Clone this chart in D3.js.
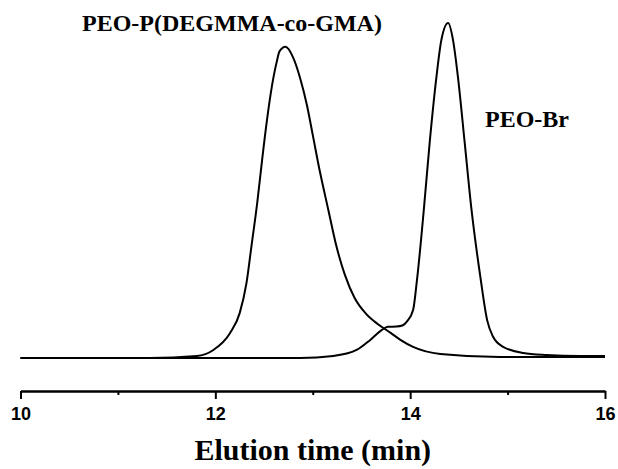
<!DOCTYPE html>
<html>
<head>
<meta charset="utf-8">
<script src="https://cdn.jsdelivr.net/npm/d3@7"></script>
<style>
  body { margin: 0; background: #fff; }
  .axis text { font-family: "Liberation Sans", Arial, sans-serif; font-weight: bold; font-size: 18px; fill: #000; }
  .axis path, .axis line { stroke: #000; stroke-width: 2; }
  .label { font-family: "Liberation Serif", "Times New Roman", serif; font-weight: bold; fill: #000; }
</style>
</head>
<body>
<script>
// elution time (min) and detector signal (peak of PEO-Br = 1)
const peoPTime = [10.0, 11.33, 11.81, 11.98, 12.15, 12.25, 12.32, 12.37, 12.43, 12.48, 12.53, 12.58, 12.63, 12.66, 12.72, 12.80, 12.87, 12.94, 13.00, 13.07, 13.16, 13.24, 13.33, 13.43, 13.55, 13.67, 13.80, 13.90, 14.03, 14.31, 14.92, 16.0];
const peoPSignal = [0, 0, 0.006, 0.024, 0.074, 0.134, 0.224, 0.332, 0.463, 0.591, 0.710, 0.810, 0.884, 0.916, 0.929, 0.896, 0.836, 0.755, 0.666, 0.561, 0.442, 0.337, 0.248, 0.179, 0.131, 0.101, 0.075, 0.054, 0.033, 0.012, 0.003, 0.003];

const peoBrTime = [10.0, 12.87, 13.21, 13.45, 13.59, 13.71, 13.77, 13.86, 13.92, 13.97, 14.03, 14.07, 14.14, 14.20, 14.27, 14.32, 14.39, 14.44, 14.49, 14.56, 14.63, 14.72, 14.79, 14.85, 14.95, 15.16, 15.40, 15.74, 16.0];
const peoBrSignal = [0, 0, 0.006, 0.024, 0.054, 0.084, 0.093, 0.094, 0.097, 0.110, 0.143, 0.233, 0.442, 0.642, 0.840, 0.949, 1.0, 0.949, 0.840, 0.642, 0.442, 0.243, 0.113, 0.064, 0.034, 0.015, 0.009, 0.006, 0.006];

const majorTicks = [10, 12, 14, 16];
const minorTicks = [11, 13, 15];
const xTitle = "Elution time (min)";
const peoPLabel = "PEO-P(DEGMMA-co-GMA)";
const peoBrLabel = "PEO-Br";

const width = 618, height = 469;

const svg = d3.select("body").append("svg")
  .attr("width", width)
  .attr("height", height);

const x = d3.scaleLinear().domain([10, 16]).range([20.5, 605]);
const y = d3.scaleLinear().domain([0, 1]).range([358, 23]);
const axisY = 391;

// minor ticks first, then the labelled axis on top
svg.append("g")
  .attr("class", "axis")
  .attr("transform", "translate(0," + axisY + ")")
  .call(d3.axisBottom(x).tickValues(minorTicks).tickSize(4).tickSizeOuter(0).tickFormat(""));

svg.append("g")
  .attr("class", "axis")
  .attr("transform", "translate(0," + axisY + ")")
  .call(d3.axisBottom(x).tickValues(majorTicks).tickSize(8).tickSizeOuter(0).tickPadding(8).tickFormat(d3.format("d")));

const line = d3.line()
  .x(d => x(d[0]))
  .y(d => y(d[1]))
  .curve(d3.curveMonotoneX);

const series = [
  d3.zip(peoPTime, peoPSignal),
  d3.zip(peoBrTime, peoBrSignal)
];

svg.selectAll(".trace")
  .data(series)
  .join("path")
  .attr("class", "trace")
  .attr("fill", "none")
  .attr("stroke", "#000")
  .attr("stroke-width", 2)
  .attr("stroke-linejoin", "round")
  .attr("d", line);

svg.append("text")
  .attr("class", "label")
  .attr("x", 82).attr("y", 31)
  .style("font-size", "24px")
  .text(peoPLabel);

svg.append("text")
  .attr("class", "label")
  .attr("x", 485).attr("y", 127)
  .style("font-size", "24px")
  .text(peoBrLabel);

svg.append("text")
  .attr("class", "label")
  .attr("x", (x.range()[0] + x.range()[1]) / 2).attr("y", 460)
  .attr("text-anchor", "middle")
  .style("font-size", "30px")
  .text(xTitle);
</script>
</body>
</html>
